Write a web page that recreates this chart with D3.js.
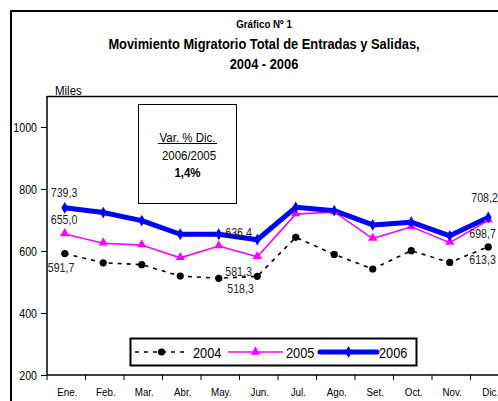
<!DOCTYPE html>
<html lang="es">
<head>
<meta charset="UTF-8">
<script src="https://cdn.jsdelivr.net/npm/d3@7"></script>
<style>
    body { margin: 0; background: #fff; }
    svg { display: block; font-family: "Liberation Sans", Arial, sans-serif; }
</style>
</head>
<body>
<div id="chart"></div>
<script>
    // ---------------- data ----------------
    const months = ["Ene.", "Feb.", "Mar.", "Abr.", "May.", "Jun.", "Jul.", "Ago.", "Set.", "Oct.", "Nov.", "Dic."];
    const v2004 = [591.7, 562, 556, 519, 512, 518.3, 644, 589, 542, 601, 563, 613.3];
    const v2005 = [655.0, 625, 619, 578, 616, 581.3, 719, 726, 640, 678, 627, 698.7];
    const v2006 = [739.3, 724, 698, 654, 654, 636.4, 741, 730, 684, 693, 649, 708.2];
    const yTicks = [200, 400, 600, 800, 1000];

    // ---------------- layout ----------------
    const W = 498, H = 401;
    const plot = { left: 47, top: 96, right: 509, bottom: 375 };
    const SX = 0.85; // narrow look (no Arial Narrow installed)

    const svg = d3.select("#chart").append("svg")
        .attr("width", W).attr("height", H);

    // text helper: horizontally condensed text
    function ntext(parent, x, y, str, size, opts = {}) {
        return parent.append("text")
            .attr("transform", `translate(${x},${y}) scale(${opts.sx || SX},1)`)
            .attr("text-anchor", opts.anchor || "start")
            .attr("font-size", size)
            .attr("font-weight", opts.bold ? "bold" : null)
            .attr("fill", opts.fill || "#000")
            .text(str);
    }

    const x = d3.scaleBand().domain(months).range([plot.left, plot.right]).paddingInner(0).paddingOuter(0);
    const xc = m => x(m) + x.bandwidth() / 2 - 1.5;
    const y = d3.scaleLinear().domain([200, 1100]).range([plot.bottom, plot.top]);

    // outer frame
    svg.append("path")
        .attr("d", `M11,${H} V11 H${W}`)
        .attr("fill", "none").attr("stroke", "#000").attr("stroke-width", 2);

    // titles
    ntext(svg, 264, 28, "Gráfico Nº 1", 11.5, { anchor: "middle", bold: true });
    ntext(svg, 264, 48.5, "Movimiento Migratorio Total de Entradas y Salidas,", 15.5, { anchor: "middle", bold: true, sx: 0.83 });
    ntext(svg, 264, 69, "2004 - 2006", 15.5, { anchor: "middle", bold: true, sx: 0.83 });
    ntext(svg, 55, 94.5, "Miles", 13.5);

    // plot frame top
    svg.append("path")
        .attr("d", `M${plot.left},${plot.top + 0.5} H${W}`)
        .attr("stroke", "#000").attr("stroke-width", 1.5);

    // y axis
    const yAxis = d3.axisLeft(y).tickValues(yTicks).tickSize(6).tickFormat(() => "");
    const gy = svg.append("g").attr("transform", `translate(${plot.left},0)`).call(yAxis);
    gy.select(".domain").attr("stroke-width", 1.5).attr("d", `M0,${plot.top}V${plot.bottom}`);
    yTicks.forEach(t => ntext(svg, 37, y(t) + 4.5, String(t), 12.5, { anchor: "end" }));

    // x axis
    const gx = svg.append("g").attr("transform", `translate(0,${plot.bottom})`);
    gx.append("path").attr("d", `M${plot.left},0H${W}`).attr("stroke", "#000").attr("stroke-width", 1.5);
    gx.selectAll("line.tick").data(months).join("line")
        .attr("class", "tick")
        .attr("x1", d => x(d)).attr("x2", d => x(d))
        .attr("y1", 0).attr("y2", 5).attr("stroke", "#000");
    months.forEach(m => ntext(gx, x(m) + x.bandwidth() / 2 + 1, 21, m, 11.5, { anchor: "middle" }));

    // lines
    const line = vals => d3.line().x((d, i) => xc(months[i])).y(d => y(d))(vals);

    svg.append("path").attr("d", line(v2004)).attr("fill", "none")
        .attr("stroke", "#000").attr("stroke-width", 1.6).attr("stroke-dasharray", "4,5");
    svg.append("path").attr("d", line(v2005)).attr("fill", "none")
        .attr("stroke", "#ff00ff").attr("stroke-width", 1.6);
    svg.append("path").attr("d", line(v2006)).attr("fill", "none")
        .attr("stroke", "#0000ff").attr("stroke-width", 5).attr("stroke-linejoin", "round");

    // markers
    svg.selectAll("circle.m04").data(v2004).join("circle").attr("class", "m04")
        .attr("cx", (d, i) => xc(months[i])).attr("cy", d => y(d)).attr("r", 3.6).attr("fill", "#000");
    const tri = d3.symbol().type(d3.symbolTriangle).size(38);
    svg.selectAll("path.m05").data(v2005).join("path").attr("class", "m05")
        .attr("d", tri).attr("fill", "#ff00ff")
        .attr("transform", (d, i) => `translate(${xc(months[i])},${y(d) - 0.5})`);
    const dia = d3.symbol().type(d3.symbolDiamond).size(40);
    svg.selectAll("path.m06").data(v2006).join("path").attr("class", "m06")
        .attr("d", dia).attr("fill", "#0000ff")
        .attr("transform", (d, i) => `translate(${xc(months[i])},${y(d)})`);

    // data labels
    const fmt = v => v.toFixed(1).replace(".", ",");
    const labels = [
        { s: v2006, i: 0, dx: -14, dy: -11 },
        { s: v2005, i: 0, dx: -14, dy: -10 },
        { s: v2004, i: 0, dx: -17, dy: 18 },
        { s: v2006, i: 5, dx: -32, dy: -3 },
        { s: v2005, i: 5, dx: -32, dy: 19 },
        { s: v2004, i: 5, dx: -30, dy: 17 },
        { s: v2006, i: 11, dx: -17, dy: -15 },
        { s: v2005, i: 11, dx: -19, dy: 18 },
        { s: v2004, i: 11, dx: -19, dy: 17 }
    ];
    labels.forEach(d => ntext(svg, xc(months[d.i]) + d.dx, y(d.s[d.i]) + d.dy, fmt(d.s[d.i]), 12.5, { fill: "#222" }));

    // variation box
    svg.append("rect").attr("x", 138.5).attr("y", 104.5).attr("width", 98).attr("height", 99)
        .attr("fill", "#fff").attr("stroke", "#000").attr("stroke-width", 1);
    ntext(svg, 187.5, 141.5, "Var. % Dic.", 13.5, { anchor: "middle" });
    svg.append("line").attr("x1", 158).attr("x2", 217).attr("y1", 143.5).attr("y2", 143.5).attr("stroke", "#000");
    ntext(svg, 189, 160, "2006/2005", 13.5, { anchor: "middle" });
    ntext(svg, 187.5, 176.5, "1,4%", 13.5, { anchor: "middle", bold: true });

    // legend
    const lg = svg.append("g");
    lg.append("rect").attr("x", 130.5).attr("y", 338.5).attr("width", 286).attr("height", 27)
        .attr("fill", "#fff").attr("stroke", "#000").attr("stroke-width", 2);
    const items = [
        { name: "2004", x0: 135, x1: 188, tx: 193, color: "#000", w: 1.6, dash: "4,5", mark: "c" },
        { name: "2005", x0: 228, x1: 283, tx: 286, color: "#ff00ff", w: 1.6, dash: null, mark: "t" },
        { name: "2006", x0: 320, x1: 377, tx: 379, color: "#0000ff", w: 5, dash: null, mark: "d" }
    ];
    const ly = 352;
    items.forEach(it => {
        lg.append("line").attr("x1", it.x0).attr("x2", it.x1).attr("y1", ly).attr("y2", ly)
            .attr("stroke", it.color).attr("stroke-width", it.w)
            .attr("stroke-dasharray", it.dash).attr("stroke-linecap", it.mark === "d" ? "round" : "butt");
        const mx = (it.x0 + it.x1) / 2;
        if (it.mark === "c") lg.append("circle").attr("cx", mx).attr("cy", ly).attr("r", 3.6).attr("fill", it.color);
        if (it.mark === "t") lg.append("path").attr("d", tri).attr("fill", it.color).attr("transform", `translate(${mx},${ly})`);
        if (it.mark === "d") lg.append("path").attr("d", dia).attr("fill", it.color).attr("transform", `translate(${mx},${ly})`);
        ntext(lg, it.tx, ly + 5.5, it.name, 15);
    });
</script>
</body>
</html>
